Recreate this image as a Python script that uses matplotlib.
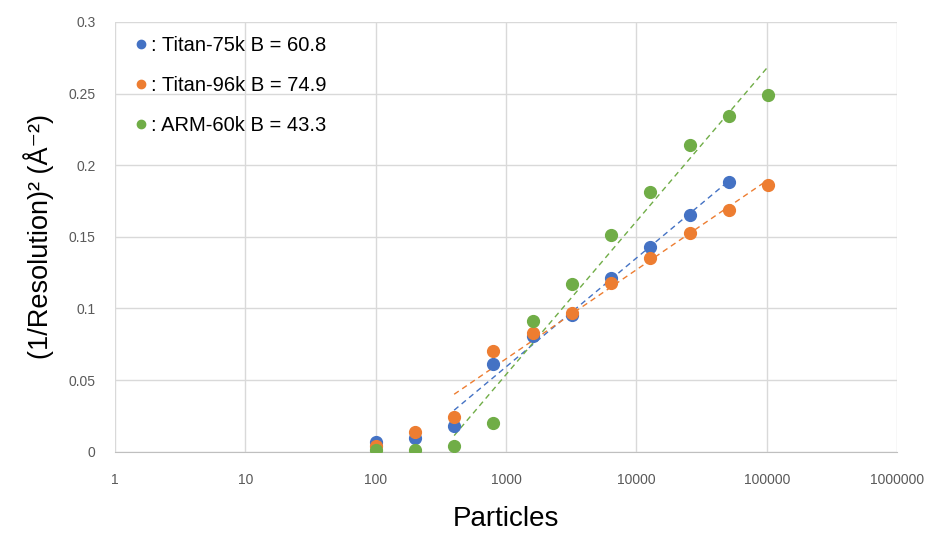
import matplotlib
matplotlib.use("Agg")
import matplotlib.pyplot as plt
from matplotlib.lines import Line2D
from matplotlib.ticker import FixedLocator, NullLocator, FuncFormatter
import numpy as np

plt.rcParams["font.family"] = ["Liberation Sans", "DejaVu Sans"]

# Data
particles = [100, 200, 400, 800, 1600, 3200, 6400, 12800, 25600, 51200, 102400]
titan75 = [0.007, 0.0098, 0.018, 0.061, 0.081, 0.0956, 0.121, 0.143, 0.165, 0.188]
titan96 = [0.004, 0.014, 0.024, 0.070, 0.083, 0.097, 0.118, 0.135, 0.153, 0.169, 0.186]
arm60 = [0.0015, 0.0015, 0.004, 0.020, 0.091, 0.117, 0.151, 0.181, 0.214, 0.234, 0.249]
labels = [": Titan-75k B = 60.8", ": Titan-96k B = 74.9", ": ARM-60k B = 43.3"]
colors = ["#4472C4", "#ED7D31", "#70AD47"]
fit_start = 2  # trend lines are fitted from 400 particles on

xticks = [1, 10, 100, 1000, 10000, 100000, 1000000]
yticks = [0, 0.05, 0.1, 0.15, 0.2, 0.25, 0.3]

fig = plt.figure(figsize=(9.26, 5.34), dpi=100)
ax = fig.add_axes([0.124, 0.154, 0.845, 0.805])

for ys, c in zip([titan75, titan96, arm60], colors):
  xs = np.array(particles[:len(ys)], dtype=float)
  ys = np.array(ys)
  ax.plot(xs, ys, "o", color=c, ms=8.5, mec=c, zorder=3)
  lx = np.log10(xs[fit_start:])
  k, b = np.polyfit(lx, ys[fit_start:], 1)
  fx = np.array([lx[0], lx[-1]])
  ax.plot(10**fx, k*fx + b, color=c, lw=1, ls=(0, (4, 3)), zorder=2)

ax.set_xscale("log")
ax.set_xlim(1, 1000000)
ax.set_ylim(0, 0.3)
ax.xaxis.set_major_locator(FixedLocator(xticks))
ax.xaxis.set_minor_locator(NullLocator())
ax.xaxis.set_major_formatter(FuncFormatter(lambda v, p: "%d" % round(v)))
ax.yaxis.set_major_locator(FixedLocator(yticks))
ax.yaxis.set_major_formatter(FuncFormatter(lambda v, p: "%g" % v))

ax.grid(True, color="#D9D9D9", lw=1)
ax.set_axisbelow(True)
for s in ["top", "right", "left"]:
  ax.spines[s].set_visible(False)
ax.spines["bottom"].set_color("#BFBFBF")
ax.tick_params(length=0, labelsize=10, labelcolor="#595959")
ax.tick_params(axis="x", pad=15)
ax.tick_params(axis="y", pad=14)

ax.set_xlabel("Particles", fontsize=20, labelpad=14)
ax.set_ylabel("(1/Resolution)² (Å⁻²)", fontsize=19.5, labelpad=10)

handles = [Line2D([], [], marker="o", ls="none", color=c, ms=6) for c in colors]
ax.legend(handles, labels, loc="upper left", bbox_to_anchor=(0.0, 1.0),
          frameon=False, fontsize=14.5, handletextpad=-0.1, labelspacing=1.05,
          handlelength=1.2, borderaxespad=0.3)

fig.savefig("out.png", dpi=100)
